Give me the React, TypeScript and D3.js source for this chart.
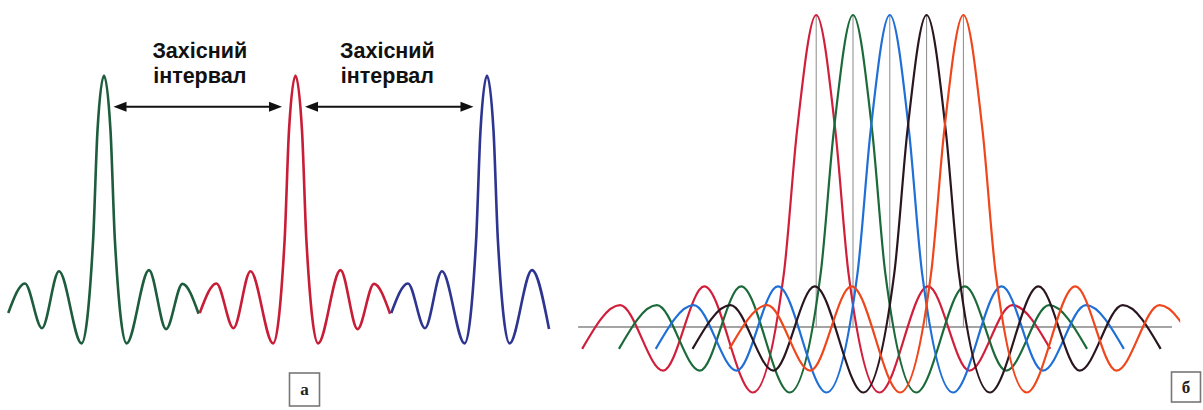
import React from "react";
import * as d3 from "d3";

const WIDTH = 1203;
const HEIGHT = 410;

// Panel а: single-carrier symbols separated by guard intervals.
// Pulse shape: offset in symbol periods vs. relative amplitude.
const symbolOffsets = [-0.5, -0.413, -0.324, -0.235, -0.117, -0.057, -0.034, 0, 0.034, 0.057, 0.118, 0.235, 0.324, 0.41, 0.494];
const symbolLevels = [-0.035, 0.094, -0.101, 0.147, -0.167, 0.28, 0.76, 1, 0.76, 0.28, -0.167, 0.152, -0.105, 0.092, -0.038];
const symbolSlots = [0, 1, 2];
const symbolEnds = [0.5, 0.5, 0.324];
const symbolColors = ["#1d5c3c", "#c81d36", "#2d3590"];
const guardLabelLines = ["Захісний", "інтервал"];
const guardLabelAt = [0.5, 1.48];

// Panel б: overlapping orthogonal subcarriers.
// Pulse shape: offset in subcarrier spacings vs. relative amplitude.
const carrierOffsets = [-6.36, -5.33, -4.16, -3.04, -1.72, -0.88, -0.52, 0, 0.52, 0.88, 1.72, 3.04, 4.16, 5.33, 6.36];
const carrierLevels = [-0.07, 0.07, -0.14, 0.13, -0.21, 0.17, 0.63, 1, 0.63, 0.17, -0.21, 0.13, -0.14, 0.07, -0.07];
const carriers = [0, 1, 2, 3, 4];
const carrierColors = ["#d11f3b", "#1c6a3a", "#1f6fd6", "#2a1620", "#f0461c"];
const axisSpan = [-6.47, 9.67];
const visibleUntil = 9.89;

const panelTags = ["а", "б"];

export default function App() {
  // scales for panel а
  const xA = d3.scaleLinear().domain([0, 2]).range([104, 487]);
  const yA = d3.scaleLinear().domain([0, 1]).range([305, 75.5]);
  // scales for panel б
  const xB = d3.scaleLinear().domain([0, 4]).range([816.2, 963.4]);
  const yB = d3.scaleLinear().domain([0, 1]).range([327, 15]);

  const lineA = d3
    .line<[number, number]>()
    .x((d) => xA(d[0]))
    .y((d) => yA(d[1]))
    .curve(d3.curveMonotoneX);
  const lineB = d3
    .line<[number, number]>()
    .x((d) => xB(d[0]))
    .y((d) => yB(d[1]))
    .curve(d3.curveMonotoneX);

  const symbolPaths = symbolSlots.map((slot, i) => {
    const pts: [number, number][] = [];
    symbolOffsets.forEach((o, k) => {
      if (o <= symbolEnds[i] + 1e-9) pts.push([slot + o, symbolLevels[k]]);
    });
    return lineA(pts) || "";
  });

  const carrierPaths = carriers.map((c) =>
    lineB(carrierOffsets.map((o, k) => [c + o, carrierLevels[k]] as [number, number])) || ""
  );

  const arrowY = 106.7;
  const head = 13;
  const halfW = 5;
  const arrows = [0, 1].map((i) => {
    const x1 = xA(symbolSlots[i]) + 9.5;
    const x2 = xA(symbolSlots[i + 1]) - 13.5;
    return { x1, x2 };
  });

  return (
    <svg
      width={WIDTH}
      height={HEIGHT}
      viewBox={`0 0 ${WIDTH} ${HEIGHT}`}
      style={{ position: "absolute", left: 0, top: 0, background: "#fff" }}
    >
      <defs>
        <clipPath id="panel-b-clip">
          <rect x={0} y={0} width={xB(visibleUntil)} height={HEIGHT} />
        </clipPath>
      </defs>
      <rect x={0} y={0} width={WIDTH} height={HEIGHT} fill="#fff" />

      {/* panel а */}
      <g>
        {symbolPaths.map((d, i) => (
          <path
            key={i}
            d={d}
            fill="none"
            stroke={symbolColors[i]}
            strokeWidth={2.6}
            strokeLinejoin="round"
            strokeLinecap="butt"
          />
        ))}
        {arrows.map((a, i) => (
          <g key={i} fill="#111" stroke="#111">
            <line x1={a.x1 + head - 2} x2={a.x2 - head + 2} y1={arrowY} y2={arrowY} strokeWidth={2} />
            <polygon
              stroke="none"
              points={`${a.x1},${arrowY} ${a.x1 + head},${arrowY - halfW} ${a.x1 + head},${arrowY + halfW}`}
            />
            <polygon
              stroke="none"
              points={`${a.x2},${arrowY} ${a.x2 - head},${arrowY - halfW} ${a.x2 - head},${arrowY + halfW}`}
            />
          </g>
        ))}
        {guardLabelAt.map((u, i) => (
          <text
            key={i}
            x={xA(u)}
            textAnchor="middle"
            fontFamily="'Liberation Sans', Arial, sans-serif"
            fontWeight="bold"
            fontSize={21.5}
            fill="#111"
          >
            {guardLabelLines.map((s, j) => (
              <tspan key={j} x={xA(u)} y={58 + j * 25}>
                {s}
              </tspan>
            ))}
          </text>
        ))}
      </g>

      {/* panel б */}
      <g>
        <line
          x1={xB(axisSpan[0])}
          x2={xB(axisSpan[1])}
          y1={yB(0)}
          y2={yB(0)}
          stroke="#4a4a4a"
          strokeWidth={1.2}
        />
        {carriers.map((c) => (
          <line
            key={c}
            x1={xB(c)}
            x2={xB(c)}
            y1={yB(1)}
            y2={yB(0)}
            stroke="#8a8a8a"
            strokeWidth={1}
          />
        ))}
        <g clipPath="url(#panel-b-clip)">
          {carrierPaths.map((d, i) => (
            <path
              key={i}
              d={d}
              fill="none"
              stroke={carrierColors[i]}
              strokeWidth={2.2}
              strokeLinejoin="round"
            />
          ))}
        </g>
      </g>

      {/* panel tags */}
      <g fontFamily="'Liberation Serif', 'Times New Roman', serif" fontWeight="bold" fill="#222">
        <rect x={289.5} y={373} width={30} height={33} fill="#fff" stroke="#777" strokeWidth={1.6} />
        <text x={304.5} y={395} textAnchor="middle" fontSize={17}>
          {panelTags[0]}
        </text>
        <rect x={1171.5} y={372} width={29} height={30} fill="#fff" stroke="#777" strokeWidth={1.6} />
        <text x={1186} y={393} textAnchor="middle" fontSize={17}>
          {panelTags[1]}
        </text>
      </g>
    </svg>
  );
}
